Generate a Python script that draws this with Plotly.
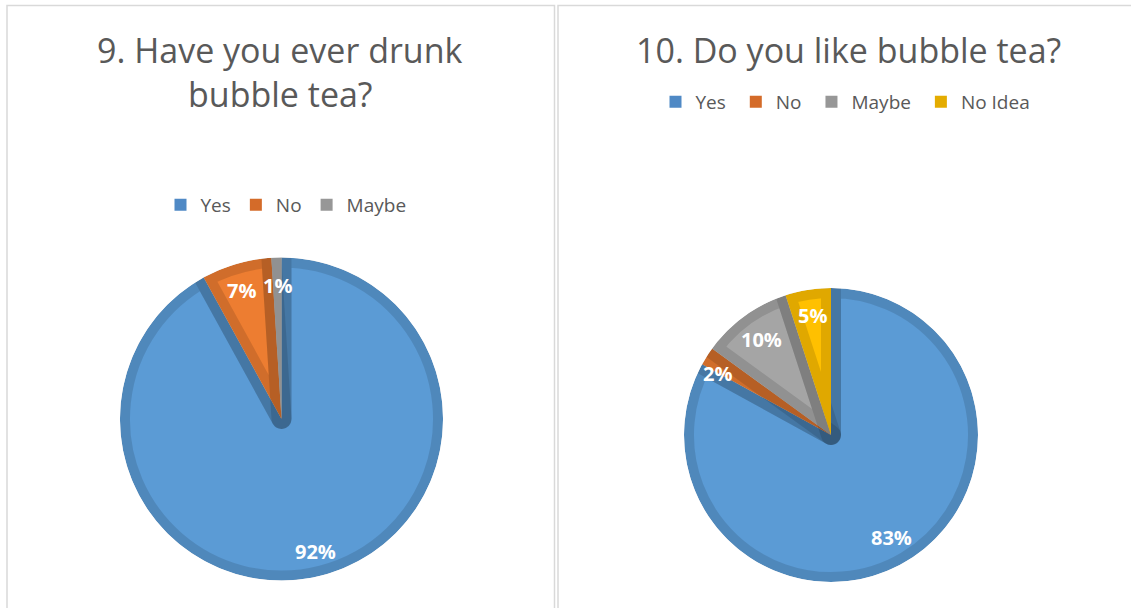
import math
import plotly.graph_objects as go

W, H = 1131, 608

# Survey answers
q9_title = ["9. Have you ever drunk", "bubble tea?"]
q9_labels = ["Yes", "No", "Maybe"]
q9_values = [92, 7, 1]

q10_title = ["10. Do you like bubble tea?"]
q10_labels = ["Yes", "No", "Maybe", "No Idea"]
q10_values = [83, 2, 10, 5]

FILL = {"Yes": "#5B9BD5", "No": "#ED7D31", "Maybe": "#A5A5A5", "No Idea": "#FFC000"}
KEY = {"Yes": "#4F89C5", "No": "#D46B29", "Maybe": "#979797", "No Idea": "#E4AC00"}
TEXT = "#595959"
EDGE_W = 20                      # width of the shaded inner rim of each slice
EDGE_SHADE = "rgba(0,0,0,0.12)"


def px_x(x):
    return x / W


def px_y(y):
    return 1 - y / H


def dom(cx, cy, r):
    return dict(x=[px_x(cx - r), px_x(cx + r)], y=[px_y(cy + r), px_y(cy - r)])


fig = go.Figure()


def add_pie(labels, values, cx, cy, outer_r, legend, label_frac, label_turn, suffix=""):
    names = [l + suffix for l in labels]
    # legend-only copy, tucked under the pie centre
    fig.add_trace(go.Pie(
        labels=names, values=values, sort=False, direction="clockwise",
        marker=dict(colors=[KEY[l] for l in labels], line=dict(width=0)),
        textinfo="none", hoverinfo="skip", domain=dom(cx, cy, 0.5),
        legend=legend, showlegend=True,
    ))
    # the pie itself, with a darkened rim around every slice
    fig.add_trace(go.Pie(
        labels=names, values=values, sort=False, direction="clockwise", rotation=0,
        marker=dict(colors=[FILL[l] for l in labels],
                    line=dict(color=EDGE_SHADE, width=EDGE_W)),
        textinfo="none", hoverinfo="label+percent",
        domain=dom(cx, cy, outer_r), legend=legend, showlegend=False,
    ))
    # white ring trimming the rim where it spills past the circle
    ring_r = outer_r + EDGE_W / 2 + 2
    fig.add_trace(go.Pie(
        values=[1], labels=["ring"], marker=dict(colors=["white"], line=dict(width=0)),
        hole=outer_r / ring_r, textinfo="none", hoverinfo="skip",
        domain=dom(cx, cy, ring_r), showlegend=False, sort=False,
    ))
    # percentage labels, placed along each slice's bisector
    total = sum(values)
    cum = 0
    for v, f, turn in zip(values, label_frac, label_turn):
        theta = 2 * math.pi * (cum + v / 2) / total + math.radians(turn)
        cum += v
        lx = cx + f * outer_r * math.sin(theta)
        ly = cy - f * outer_r * math.cos(theta)
        fig.add_annotation(
            x=px_x(lx), y=px_y(ly), xref="paper", yref="paper",
            text=f"<b>{round(100 * v / total)}%</b>", showarrow=False,
            font=dict(family="Open Sans", size=20, color="white"),
            xanchor="center", yanchor="middle",
        )


add_pie(q9_labels, q9_values, 281.5, 419, 161.5, "legend",
        [0.85, 0.83, 0.83], [0, -1, 0])
# trailing space keeps this chart's legend entries apart from the first chart's
add_pie(q10_labels, q10_values, 831, 435, 147, "legend2",
        [0.81, 0.88, 0.80, 0.82], [0, -4, 0, 0], suffix=" ")

# Titles
for i, line in enumerate(q9_title):
    fig.add_annotation(x=px_x(280), y=px_y(50 + 44 * i), xref="paper", yref="paper",
                       text=line, showarrow=False,
                       font=dict(family="Open Sans", size=34, color=TEXT),
                       xanchor="center", yanchor="middle")
for i, line in enumerate(q10_title):
    fig.add_annotation(x=px_x(848), y=px_y(50 + 44 * i), xref="paper", yref="paper",
                       text=line, showarrow=False,
                       font=dict(family="Open Sans", size=34, color=TEXT),
                       xanchor="center", yanchor="middle")

# Panel frames
frame = dict(type="rect", xref="paper", yref="paper",
             line=dict(color="#D9D9D9", width=1.5), fillcolor="rgba(0,0,0,0)", layer="below")
fig.add_shape(x0=px_x(7), x1=px_x(554.5), y0=px_y(640), y1=px_y(5.5), **frame)
fig.add_shape(x0=px_x(558), x1=px_x(1160), y0=px_y(640), y1=px_y(5.5), **frame)

legend_style = dict(orientation="h", xanchor="center", yanchor="middle",
                    font=dict(family="Open Sans", size=19, color=TEXT),
                    bgcolor="rgba(0,0,0,0)", itemclick=False, itemdoubleclick=False)

fig.update_layout(
    width=W, height=H,
    margin=dict(l=0, r=0, t=0, b=0),
    paper_bgcolor="white",
    legend=dict(x=px_x(286), y=px_y(205), **legend_style),
    legend2=dict(x=px_x(848), y=px_y(102), **legend_style),
)

fig.write_html("out.html")
